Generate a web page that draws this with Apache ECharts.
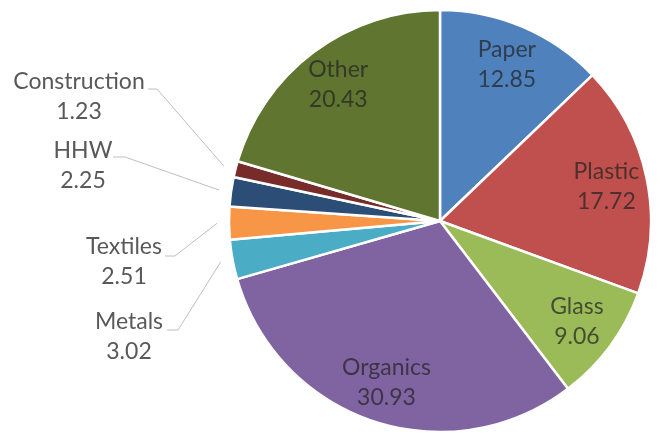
<!DOCTYPE html>
<html>
<head>
<meta charset="utf-8">
<script src="https://cdn.jsdelivr.net/npm/echarts@6/dist/echarts.min.js"></script>
<style>html,body{margin:0;padding:0;background:#fff;}#c{width:659px;height:434px;}</style>
</head>
<body>
<div id="c"></div>
<script>
const categories = ['Paper','Plastic','Glass','Organics','Metals','Textiles','HHW','Construction','Other'];
const values = [12.85, 17.72, 9.06, 30.93, 3.02, 2.51, 2.25, 1.23, 20.43];
const colors = ['#4F81BD','#C0504D','#9BBB59','#8064A2','#4BACC6','#F79646','#2C4D75','#772C2A','#5F7530'];
const outsideLabels = ['Metals','Textiles','HHW','Construction'];

// label anchor placement (layout only)
const labelAnchor = {
  'Construction': {x: 79, y: 97, cx: 157, cy: 89, ex: 148},
  'HHW':          {x: 83, y: 166, cx: 125, cy: 157, ex: 113},
  'Textiles':     {x: 124, y: 262, cx: 175, cy: 256, ex: 165},
  'Metals':       {x: 129, y: 337, cx: 178, cy: 330, ex: 167}
};

const chart = echarts.init(document.getElementById('c'));
const FONT = 'Lato';
const CX = 440, CY = 221, R = 211;
const center = [CX, CY];

const mainData = categories.map((n, i) => ({name: n, value: values[i], itemStyle: {color: colors[i]}}));
const labelData = categories.map((n, i) => {
  const out = outsideLabels.indexOf(n) >= 0;
  return {
    name: n, value: values[i],
    label: out ? {position: 'outside', color: '#595959'} : {position: 'inside', color: 'rgba(35,35,35,0.72)'},
    labelLine: {show: out}
  };
});

chart.setOption({
  animation: false,
  backgroundColor: '#fff',
  series: [
    {
      type: 'pie',
      center: center,
      radius: R,
      startAngle: 90,
      clockwise: true,
      silent: true,
      label: {show: false},
      labelLine: {show: false},
      itemStyle: {borderColor: '#fff', borderWidth: 2.5},
      data: mainData
    },
    {
      type: 'pie',
      center: center,
      radius: [123, R],
      startAngle: 90,
      clockwise: true,
      silent: true,
      itemStyle: {color: 'rgba(0,0,0,0)', borderWidth: 0},
      label: {
        show: true,
        formatter: p => p.name + '\n' + p.value.toFixed(2),
        fontFamily: FONT,
        fontSize: 23,
        lineHeight: 30,
        align: 'center'
      },
      labelLine: {show: true, length: 12, length2: 10, lineStyle: {color: '#BFBFBF', width: 1}},
      labelLayout: function (params) {
        const name = categories[params.dataIndex];
        const a = labelAnchor[name];
        if (!a) return {};
        const p0 = params.labelLinePoints[0];
        const dx = p0[0] - CX, dy = p0[1] - CY;
        const d = Math.sqrt(dx * dx + dy * dy) || 1;
        const s = [p0[0] + dx / d * 12, p0[1] + dy / d * 12];
        return {
          x: a.x, y: a.y, align: 'center', verticalAlign: 'middle',
          labelLinePoints: [s, [a.cx, a.cy], [a.ex, a.cy]]
        };
      },
      data: labelData
    }
  ]
});
</script>
</body>
</html>
